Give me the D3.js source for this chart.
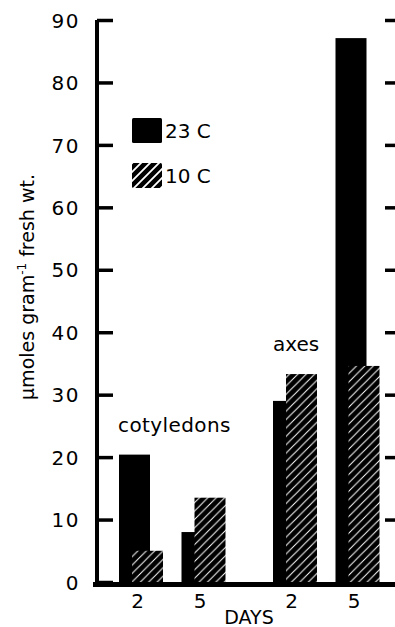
<!DOCTYPE html>
<html>
<head>
<meta charset="utf-8">
<script src="https://cdn.jsdelivr.net/npm/d3@7/dist/d3.min.js"></script>
<style>
  html, body { margin: 0; padding: 0; background: #fff; }
  svg { display: block; }
  text { font-family: "DejaVu Sans", sans-serif; fill: #000; }
</style>
</head>
<body>
<svg id="chart" width="395" height="627"></svg>
<script>
// Tissue groups, sampling days and temperature series
const groups = ["cotyledons", "axes"];
const days = ["2", "5"];
const series = ["23 C", "10 C"];
// µmoles per gram fresh weight, [group][day]
const warm = [[20.4, 8.0], [29.0, 87.1]];   // 23 C
const cold = [[5.0, 13.5], [33.3, 34.6]];   // 10 C
const yTicks = [0, 10, 20, 30, 40, 50, 60, 70, 80, 90];

const rows = [];
groups.forEach((g, gi) => days.forEach((d, di) => {
  rows.push({ group: g, day: d, series: series[0], value: warm[gi][di] });
  rows.push({ group: g, day: d, series: series[1], value: cold[gi][di] });
}));

const svg = d3.select("#chart");

// hatch patterns: black ground with thin white diagonals
const defs = svg.append("defs");
function hatch(id, size, sw) {
  const p = defs.append("pattern").attr("id", id)
    .attr("patternUnits", "userSpaceOnUse")
    .attr("width", size).attr("height", size);
  p.append("rect").attr("width", size).attr("height", size).attr("fill", "#000");
  p.append("path")
    .attr("d", `M0,${size} L${size},0 M${-size / 2},${size / 2} L${size / 2},${-size / 2} M${size / 2},${size * 1.5} L${size * 1.5},${size / 2}`)
    .attr("stroke", "#fff").attr("stroke-width", sw);
}
hatch("hatchBar", 8.4, 1);
hatch("hatchKey", 9, 1.8);

const y = d3.scaleLinear().domain([0, 90]).range([582, 20]);

const xGroup = d3.scaleBand().domain(groups).range([104, 412]);
const xDay = d3.scaleBand().domain(days).range([15, 140]);
const xSeries = d3.scaleOrdinal().domain(series).range([0, 13]);
const barW = 31;

const fillOf = s => s === series[0] ? "#000" : "url(#hatchBar)";

// bars: 23 C drawn first, 10 C overlaps it
svg.append("g").selectAll("rect")
  .data(rows.slice().sort((a, b) => series.indexOf(a.series) - series.indexOf(b.series)))
  .join("rect")
  .attr("x", d => xGroup(d.group) + xDay(d.day) + xSeries(d.series))
  .attr("y", d => y(d.value))
  .attr("width", barW)
  .attr("height", d => y(0) - y(d.value))
  .attr("fill", d => fillOf(d.series));

// left axis with inward ticks
const axL = svg.append("g").attr("transform", "translate(97,0)")
  .call(d3.axisLeft(y).tickValues(yTicks).tickSizeInner(-16).tickSizeOuter(0).tickPadding(17));
axL.select(".domain").attr("stroke-width", 4).attr("d", `M0,${y(90)}V${y(0) + 2}`);
axL.selectAll(".tick line").attr("stroke-width", 3.5);
axL.selectAll(".tick text").style("font-size", "20px").style("letter-spacing", "1.5px").attr("dy", "0.36em");

// right axis: ticks only, pointing inward
const axR = svg.append("g").attr("transform", "translate(399,0)")
  .call(d3.axisRight(y).tickValues(yTicks.filter(v => v > 0)).tickSizeInner(-14).tickSizeOuter(0).tickFormat(""));
axR.select(".domain").attr("stroke-width", 4);
axR.selectAll(".tick line").attr("stroke-width", 3.5);

// baseline
svg.append("line")
  .attr("x1", 93).attr("x2", 395)
  .attr("y1", y(0) + 2.5).attr("y2", y(0) + 2.5)
  .attr("stroke", "#000").attr("stroke-width", 5);

// day labels under each pair
const dayLabels = [];
groups.forEach(g => days.forEach(d => dayLabels.push({ g, d })));
svg.append("g").selectAll("text").data(dayLabels).join("text")
  .attr("x", d => xGroup(d.g) + xDay(d.d) + 18.5)
  .attr("y", 608)
  .attr("text-anchor", "middle")
  .style("font-size", "20px")
  .text(d => d.d);

svg.append("text").attr("x", 249).attr("y", 624)
  .attr("text-anchor", "middle").style("font-size", "19px").text("DAYS");

// group names
svg.append("text").attr("x", xGroup("cotyledons") + xDay("2") - 1).attr("y", 432)
  .style("font-size", "20px").style("letter-spacing", "0.4px").text("cotyledons");
svg.append("text").attr("x", xGroup("axes") + xDay("2")).attr("y", 351)
  .style("font-size", "20px").text("axes");

// y axis title
const yt = svg.append("text")
  .attr("transform", "translate(34,287) rotate(-90)")
  .attr("text-anchor", "middle")
  .style("font-size", "19px");
yt.append("tspan").text("\u03bcmoles gram");
yt.append("tspan").attr("dy", -8).style("font-size", "12px").text("-1");
yt.append("tspan").attr("dy", 8).text(" fresh wt.");

// legend
const key = svg.append("g").attr("transform", "translate(132,118)");
series.forEach((s, i) => {
  const row = key.append("g").attr("transform", `translate(0,${i * 45})`);
  row.append("rect").attr("width", 30).attr("height", 25).attr("rx", 1.5)
    .attr("fill", i === 0 ? "#000" : "url(#hatchKey)");
  row.append("text").attr("x", 33).attr("y", 20).style("font-size", "20px").text(s);
});
</script>
</body>
</html>
